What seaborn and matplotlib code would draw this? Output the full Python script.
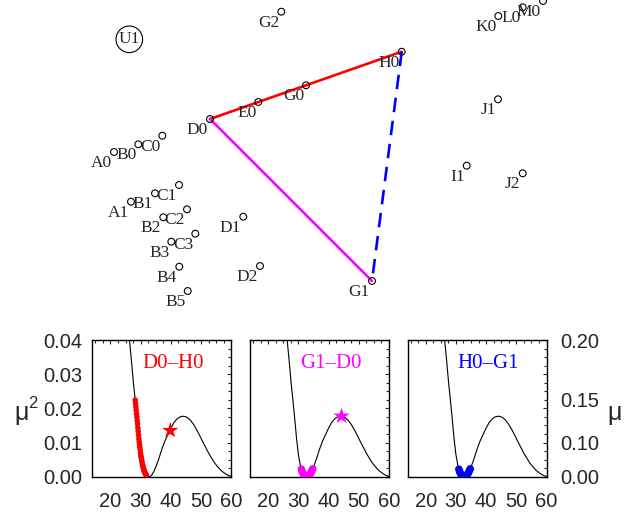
import numpy as np
import pandas as pd
import matplotlib
matplotlib.use('Agg')
import matplotlib.pyplot as plt
import seaborn as sns

# Estados no mapa (posicoes)
nomes = ['A0', 'B0', 'C0', 'D0', 'E0', 'G0', 'H0', 'G2', 'K0', 'L0', 'M0', 'J1', 'I1', 'J2',
         'A1', 'B1', 'C1', 'B2', 'C2', 'B3', 'C3', 'B4', 'B5', 'D1', 'D2', 'G1']
pos_x = [114, 138.3, 162.3, 210, 258.3, 306, 401.7, 281.3, 498.3, 522.7, 543, 498, 466.7, 522.7,
         131, 155, 179, 163.3, 187, 171.3, 195.3, 179.3, 187.7, 243.3, 260, 372]
pos_y = [152, 144.3, 135.7, 119, 102, 85.3, 51.7, 11.7, 16, 7.3, 1, 99.3, 165.7, 173.3,
         201.7, 193.3, 185, 217.3, 209.3, 241.7, 233.7, 266.7, 291, 216.7, 266, 281]
u1_x, u1_y = 129.3, 39.3

# Caminhos entre estados
caminhos = [('D0', 'H0'), ('G1', 'D0'), ('H0', 'G1')]

# Curva mu^2 (mesma nos tres paineis)
curva_x = [25.6, 26.3, 27.0, 27.6, 28.2, 28.8, 29.4, 30.0, 30.6, 31.2, 31.8, 32.4, 33.0, 33.6,
           34.3, 35.0, 36.0, 37.0, 38.0, 39.0, 40.0, 41.0, 42.0, 43.0, 44.0, 44.7, 45.5, 46.5,
           47.5, 48.5, 49.5, 50.5, 51.5, 52.5, 53.5, 54.5, 55.5, 56.5, 57.5, 58.5, 59.5, 60.0]
curva_y = [0.046, 0.040, 0.0335, 0.0275, 0.0224, 0.0170, 0.0112, 0.0066, 0.0036, 0.0016, 0.0005,
           0.0001, 0.0000, 0.0004, 0.0014, 0.0028, 0.0052, 0.0080, 0.0104, 0.0123, 0.0142, 0.0158,
           0.0169, 0.0175, 0.0177, 0.0176, 0.0173, 0.0165, 0.0153, 0.0138, 0.0121, 0.0103, 0.0086,
           0.0069, 0.0054, 0.0040, 0.0029, 0.0019, 0.0012, 0.0006, 0.0002, 0.0001]

# Pontos ao longo de cada caminho
dh_x = [28.20, 28.31, 28.42, 28.53, 28.64, 28.75, 28.86, 28.97, 29.08, 29.19, 29.30, 29.41,
        29.52, 29.63, 29.74, 29.85, 29.96, 30.07, 30.18, 30.29, 30.40, 30.51, 30.62, 30.73,
        30.84, 30.95, 31.06, 31.17, 31.28, 31.39, 31.50, 31.61, 31.72, 31.83]
dh_y = [0.0224, 0.0214, 0.0204, 0.0194, 0.0184, 0.0175, 0.0164, 0.0154, 0.0143, 0.0133, 0.0122,
        0.0111, 0.0102, 0.0094, 0.0086, 0.0078, 0.0069, 0.0062, 0.0057, 0.0051, 0.0046, 0.0040,
        0.0035, 0.0031, 0.0027, 0.0023, 0.0020, 0.0017, 0.0014, 0.0012, 0.0010, 0.0008, 0.0006,
        0.0005]
gd_x = [31.0, 31.25, 31.5, 31.75, 32.0, 32.25, 32.5, 32.75, 33.0, 33.25, 33.5, 33.75, 34.0,
        34.25, 34.5, 34.75]
gd_y = [0.0022, 0.0015, 0.0010, 0.0006, 0.0003, 0.0002, 0.0001, 0.0000, 0.0000, 0.0001, 0.0003,
        0.0006, 0.0009, 0.0013, 0.0018, 0.0023]
hg_x = gd_x
hg_y = gd_y

# Estrelas (estado de transicao)
estrela_dh = (39.8, 0.0135)
estrela_gd = (44.3, 0.0177)

paineis = [
    ('D0–H0', 'red', dh_x, dh_y, 16, estrela_dh),
    ('G1–D0', 'magenta', gd_x, gd_y, 30, estrela_gd),
    ('H0–G1', 'blue', hg_x, hg_y, 30, None),
]
cores_caminho = {('D0', 'H0'): ('red', '-'), ('G1', 'D0'): ('magenta', '-'),
                 ('H0', 'G1'): ('blue', (0, (5.5, 3.3)))}

sns.set_style('white')
plt.rcParams['font.family'] = ['Liberation Sans', 'DejaVu Sans']

fig = plt.figure(figsize=(6.25, 5.18), dpi=100)

# Mapa dos estados
ax = fig.add_axes([0, 1 - 322 / 518, 1, 322 / 518])
df = pd.DataFrame({'nome': nomes, 'x': pos_x, 'y': pos_y})
p = df.set_index('nome')
for a, b in caminhos:
    cor, estilo = cores_caminho[(a, b)]
    ax.plot([p.loc[a, 'x'], p.loc[b, 'x']], [p.loc[a, 'y'], p.loc[b, 'y']],
            color=cor, linestyle=estilo, linewidth=1.9, zorder=2)
sns.scatterplot(data=df, x='x', y='y', ax=ax, marker='o', s=24, facecolor='none',
                edgecolor='black', linewidth=0.8, zorder=3)
for _, r in df.iterrows():
    ax.annotate(r['nome'], (r['x'], r['y']), xytext=(-1.5, -8), textcoords='offset points',
                ha='right', va='center', fontsize=12.5, family='Liberation Serif')
ax.text(u1_x, u1_y, 'U1', ha='center', va='center', fontsize=12.5, family='Liberation Serif',
        bbox=dict(boxstyle='circle,pad=0.15', facecolor='none', edgecolor='black', linewidth=0.8))
ax.set_xlim(0, 625)
ax.set_ylim(322, 0)
ax.axis('off')

# Paineis de mu^2
lefts = [92.3, 250, 407.5]
for i, (titulo, cor, px, py, tam, estrela) in enumerate(paineis):
    a2 = fig.add_axes([lefts[i] / 625, 1 - 476.7 / 518, 139 / 625, 136.7 / 518])
    sns.lineplot(x=curva_x, y=curva_y, ax=a2, color='black', linewidth=0.8, sort=False,
                 estimator=None)
    sns.scatterplot(x=px, y=py, ax=a2, color=cor, s=tam, edgecolor='none', zorder=3)
    if estrela is not None:
        sns.scatterplot(x=[estrela[0]], y=[estrela[1]], ax=a2, color=cor, marker='*', s=150,
                        edgecolor='none', zorder=4)
    a2.text(0.58, 0.83, titulo, transform=a2.transAxes, color=cor, ha='center', va='center',
            fontsize=15, family='Liberation Serif')
    a2.set_xlim(14, 60)
    a2.set_ylim(0, 0.04)
    a2.set_xticks([20, 30, 40, 50, 60])
    a2.set_xticks(np.arange(15, 60.1, 2.5), minor=True)
    a2.set_yticks([0, 0.01, 0.02, 0.03, 0.04])
    a2.set_yticks(np.arange(0, 0.0401, 0.0025), minor=True)
    a2.tick_params(which='both', direction='in', top=True, right=True, labelsize=14.5)
    a2.tick_params(which='major', length=3, width=0.8)
    a2.tick_params(which='minor', length=2, width=0.8)
    a2.tick_params(axis='x', pad=11)
    a2.tick_params(axis='y', pad=7)
    for s in a2.spines.values():
        s.set_linewidth(1.0)
        s.set_color('black')
    a2.set_yticklabels(['0.00', '0.01', '0.02', '0.03', '0.04'])
    if i > 0:
        a2.set_yticklabels([])
    if i == 2:
        sec = a2.secondary_yaxis('right', functions=(lambda v: np.sqrt(np.clip(v, 0, None)),
                                                     lambda m: m ** 2))
        sec.set_yticks([0.0, 0.10, 0.15, 0.20])
        sec.set_yticklabels(['0.00', '0.10', '0.15', '0.20'])
        sec.tick_params(length=0, pad=10, labelsize=14.5)
        sec.spines['right'].set_visible(False)

fig.text(22 / 625, 1 - 413 / 518, 'μ', fontsize=18, ha='center', va='center')
fig.text(33 / 625, 1 - 403 / 518, '2', fontsize=12, ha='center', va='center')
fig.text(615 / 625, 1 - 413 / 518, 'μ', fontsize=18, ha='center', va='center')

fig.savefig('out.png', dpi=100)
